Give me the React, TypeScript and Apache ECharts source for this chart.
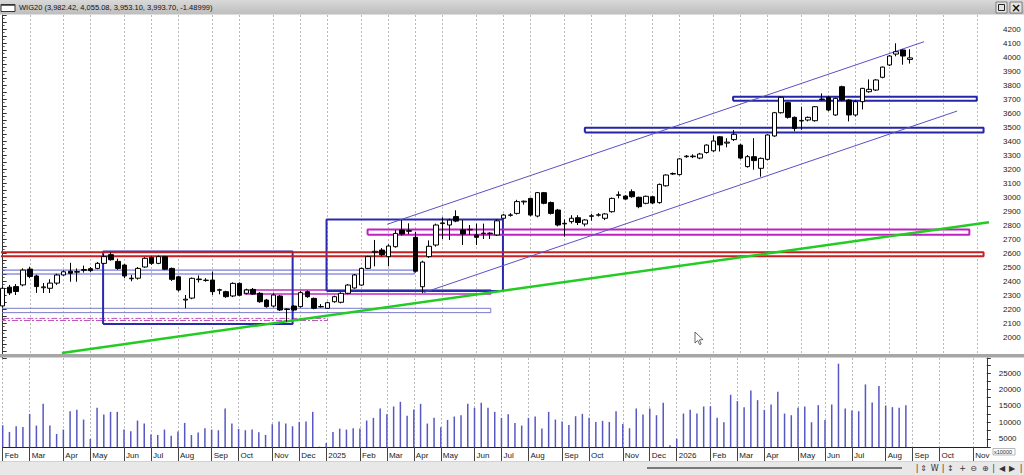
import React, { useEffect, useRef } from "react";
import * as echarts from "echarts";

// ---------- data ----------
const CATEGORY_COUNT = 147; // weekly slots, Feb 2024 .. Nov 2026
const categories: string[] = Array.from({ length: CATEGORY_COUNT }, (_, i) => String(i));

const monthTickIndex = [0, 4, 9, 13, 18, 22, 26, 31, 35, 40, 44, 48, 53, 57, 61, 65, 70, 74, 78, 83, 87, 92, 96, 100, 105, 109, 113, 118, 122, 126, 131, 135, 139, 144];
const monthTickLabel = ["Feb", "Mar", "Apr", "May", "Jun", "Jul", "Aug", "Sep", "Oct", "Nov", "Dec", "2025", "Feb", "Mar", "Apr", "May", "Jun", "Jul", "Aug", "Sep", "Oct", "Nov", "Dec", "2026", "Feb", "Mar", "Apr", "May", "Jun", "Jul", "Aug", "Sep", "Oct", "Nov"];

// weekly candles: [open, close, low, high]
const candles: number[][] = [
  [2222, 2348, 2212, 2360], [2356, 2315, 2300, 2372], [2360, 2325, 2300, 2378], [2372, 2478, 2362, 2490], [2485, 2432, 2420, 2502],
  [2436, 2360, 2315, 2445], [2352, 2358, 2314, 2386], [2348, 2385, 2314, 2412], [2385, 2443, 2372, 2452], [2443, 2466, 2436, 2476],
  [2470, 2455, 2395, 2530], [2463, 2467, 2395, 2490], [2476, 2482, 2460, 2510], [2488, 2474, 2465, 2500], [2490, 2526, 2484, 2536],
  [2526, 2574, 2520, 2590], [2588, 2552, 2545, 2605], [2540, 2490, 2480, 2560], [2514, 2436, 2420, 2522], [2416, 2420, 2398, 2443],
  [2420, 2490, 2410, 2500], [2500, 2562, 2494, 2570], [2568, 2526, 2515, 2578], [2526, 2574, 2520, 2582], [2574, 2484, 2478, 2580],
  [2490, 2412, 2400, 2496], [2430, 2336, 2325, 2436], [2264, 2270, 2205, 2300], [2278, 2419, 2270, 2425], [2410, 2414, 2390, 2440],
  [2404, 2406, 2395, 2420], [2407, 2324, 2300, 2467], [2334, 2338, 2305, 2345], [2324, 2288, 2280, 2330], [2293, 2383, 2285, 2390],
  [2383, 2298, 2292, 2390], [2312, 2336, 2305, 2345], [2340, 2307, 2300, 2350], [2312, 2252, 2245, 2320], [2264, 2217, 2210, 2272],
  [2221, 2300, 2212, 2312], [2293, 2193, 2186, 2300], [2196, 2200, 2109, 2205], [2221, 2193, 2185, 2228], [2217, 2317, 2210, 2330],
  [2324, 2288, 2280, 2332], [2276, 2205, 2198, 2282], [2215, 2218, 2210, 2235], [2205, 2245, 2200, 2252], [2252, 2288, 2245, 2295],
  [2248, 2312, 2240, 2320], [2312, 2371, 2305, 2378], [2350, 2443, 2345, 2450], [2371, 2490, 2365, 2495], [2490, 2574, 2485, 2580],
  [2605, 2612, 2505, 2693], [2621, 2588, 2575, 2635], [2574, 2650, 2505, 2662], [2645, 2740, 2638, 2764], [2764, 2736, 2725, 2836],
  [2755, 2760, 2735, 2812], [2712, 2470, 2460, 2750], [2359, 2535, 2315, 2545], [2574, 2648, 2565, 2690], [2657, 2800, 2645, 2810],
  [2810, 2815, 2700, 2855], [2800, 2835, 2693, 2845], [2860, 2828, 2820, 2905], [2765, 2736, 2657, 2836], [2765, 2769, 2729, 2800],
  [2729, 2712, 2657, 2810], [2738, 2742, 2700, 2810], [2738, 2742, 2700, 2748], [2729, 2830, 2722, 2840], [2848, 2871, 2840, 2880],
  [2869, 2872, 2860, 2885], [2883, 2967, 2875, 2980], [2965, 2970, 2945, 2975], [2990, 2871, 2862, 2995], [2864, 3031, 2855, 3036],
  [3031, 2955, 2948, 3036], [2960, 2883, 2875, 2968], [2907, 2800, 2790, 2915], [2808, 2812, 2717, 2840], [2824, 2848, 2810, 2870],
  [2852, 2818, 2800, 2870], [2807, 2836, 2790, 2842], [2862, 2866, 2830, 2880], [2870, 2873, 2860, 2885], [2848, 2879, 2835, 2885],
  [2895, 2990, 2888, 2996], [3012, 3016, 2990, 3040], [3007, 2985, 2980, 3012], [3038, 3002, 2995, 3055], [2998, 2931, 2920, 3002],
  [2955, 3005, 2948, 3010], [3002, 2957, 2950, 3008], [2960, 3090, 2952, 3096], [3080, 3157, 3074, 3162], [3164, 3168, 3158, 3175],
  [3160, 3272, 3154, 3278], [3288, 3292, 3280, 3300], [3288, 3292, 3278, 3305], [3278, 3307, 3270, 3315], [3318, 3371, 3310, 3376],
  [3330, 3400, 3322, 3440], [3430, 3372, 3325, 3436], [3385, 3392, 3355, 3420], [3410, 3448, 3400, 3478], [3371, 3278, 3270, 3380],
  [3217, 3288, 3210, 3300], [3288, 3260, 3195, 3420], [3205, 3276, 3145, 3282], [3269, 3443, 3262, 3448], [3436, 3602, 3430, 3608],
  [3602, 3712, 3596, 3718], [3674, 3569, 3560, 3680], [3569, 3490, 3470, 3575], [3543, 3547, 3480, 3645], [3550, 3569, 3540, 3575],
  [3545, 3645, 3538, 3650], [3696, 3700, 3690, 3740], [3712, 3621, 3612, 3720], [3586, 3705, 3580, 3710], [3788, 3693, 3686, 3795],
  [3693, 3586, 3540, 3698], [3586, 3681, 3575, 3690], [3681, 3776, 3625, 3780], [3752, 3769, 3745, 3840], [3764, 3836, 3757, 3842],
  [3855, 3928, 3848, 3932], [3943, 4007, 3936, 4014], [4021, 4038, 4005, 4098], [4050, 4007, 3945, 4055], [3982.42, 3993.7, 3953.1, 4055.08],
];

const volumes: number[] = [
  9120, 7090, 8820, 8610, 12590, 9020, 15650, 9020, 6470, 7800,
  13400, 13810, 10860, 4950, 14420, 12380, 13200, 13200, 7800, 7290,
  10550, 9630, 6270, 6170, 7800, 5960, 7190, 9840, 6170, 6880,
  8210, 7800, 7600, 14220, 9630, 8000, 7600, 7800, 6980, 6170,
  9430, 10240, 9630, 8820, 10140, 10240, 13200, 2600, 3720, 7090,
  8100, 7800, 8210, 8100, 10550, 11370, 14220, 12490, 14830, 16260,
  11980, 13910, 15650, 9630, 11370, 8510, 10750, 11770, 12180, 15650,
  14420, 15950, 14420, 13200, 11370, 12480, 9840, 9020, 11370, 11770,
  8100, 13200, 10860, 10240, 9230, 11870, 12590, 11370, 10140, 10450,
  10140, 13400, 9530, 8210, 14220, 12380, 14220, 12180, 15950, 3010,
  5050, 12690, 13810, 12690, 14830, 14930, 11370, 10040, 18400, 16460,
  14630, 19720, 16770, 13810, 15440, 19310, 12690, 12180, 14420, 14830,
  10040, 15240, 10750, 15440, 27870, 14220, 13610, 13400, 21560, 16050,
  21050, 15130, 14630, 14420, 15240,
];

// drawings: [weekStart, weekEnd, priceLow, priceHigh]
const redBand = [-0.4, 144.9, 2576, 2606];
const magentaBandRight = [53.9, 142.8, 2731, 2767];
const blueBandUpper = [107.9, 143.9, 3688, 3716];
const blueBandLower = [86.0, 144.9, 3460, 3495];
const blueBox2024 = [14.83, 42.83, 2093, 2610];
const blueBox2025 = [47.84, 73.9, 2328, 2840];
const thinBlueBand = [-0.4, 60.8, 2450, 2478];
const paleBlueBand = [-0.4, 72.1, 2174, 2205];
const dashedMagentaBand = [-0.4, 48.0, 2118, 2133];
const magentaBandLow = [35.7, 72.1, 2308, 2336];
// trend lines: [[week, price], [week, price]]
const channelUpper = [[56.8, 2805], [136.1, 4109]];
const channelLower = [[62.2, 2317], [141.0, 3614]];
const greenTrend = [[8.74, 1886], [145.7, 2819]];

const titleText = "WIG20 (3,982.42, 4,055.08, 3,953.10, 3,993.70, -1.48999)";
const toolbarIcons = ["|", "⇕", "W", "|", "↕", "+", "⊖", "⊕", "|", "◀", "▶", "|"];
const toolbarIconX = [917, 923.7, 934.7, 943, 950.3, 962.7, 973.7, 985.3, 993.7, 1002, 1012, 1021];

// ---------- chart ----------
const FONT = "Liberation Sans";
const monthSet = new Set(monthTickIndex);
const monthLabelMap = new Map<number, string>(monthTickIndex.map((i, k) => [i, monthTickLabel[k]]));
const isMonth = (i: number) => monthSet.has(i);

const rectPoints = (r: number[]) => [
  [r[0], r[2]], [r[1], r[2]], [r[1], r[3]], [r[0], r[3]], [r[0], r[2]],
];

const overlay = (data: number[][], color: string, width: number, type: any = "solid", z = 2) => ({
  type: "line",
  xAxisIndex: 2,
  yAxisIndex: 0,
  data,
  symbol: "none",
  showSymbol: false,
  clip: false,
  silent: true,
  z,
  lineStyle: { color, width, type },
});

function buildOption(): any {
  const gridDash = { color: "#b9b9b9", type: [2, 2], width: 1 };
  return {
    animation: false,
    backgroundColor: "#ffffff",
    grid: [
      { left: 2.7, right: 33, top: 15, height: 343 },
      { left: 2.7, right: 33, top: 358, height: 89 },
    ],
    xAxis: [
      {
        type: "category", gridIndex: 0, data: categories, boundaryGap: false,
        axisLine: { show: false }, axisTick: { show: false }, axisLabel: { show: false },
        splitLine: { show: true, interval: (i: number) => isMonth(i), lineStyle: gridDash },
      },
      {
        type: "category", gridIndex: 1, data: categories, boundaryGap: false,
        axisLine: { show: true, lineStyle: { color: "#222", width: 1 } },
        axisTick: { show: true, interval: (i: number) => isMonth(i), length: 14, lineStyle: { color: "#444" } },
        axisLabel: {
          show: true, interval: (i: number) => isMonth(i),
          formatter: (v: string) => monthLabelMap.get(Number(v)) ?? "",
          align: "left", verticalAlign: "top", margin: 4, padding: [0, 0, 0, 2],
          fontSize: 8, fontFamily: FONT, color: "#1a1a1a",
        },
        splitLine: { show: true, interval: (i: number) => isMonth(i), lineStyle: gridDash },
      },
      { type: "value", gridIndex: 0, min: 0, max: CATEGORY_COUNT - 1, show: false },
    ],
    yAxis: [
      {
        type: "value", gridIndex: 0, position: "right", min: 1850, max: 4300, interval: 50,
        axisLine: { show: true, lineStyle: { color: "#333" } },
        axisTick: { show: true, length: 4, lineStyle: { color: "#333" } },
        minorTick: { show: true, splitNumber: 2, length: 2, lineStyle: { color: "#555" } },
        axisLabel: {
          formatter: (v: number) => (v % 100 === 0 && v >= 2000 && v <= 4200 ? String(v) : ""),
          margin: 12, fontSize: 8, fontFamily: FONT, color: "#1a1a1a",
        },
        splitLine: { show: false },
      },
      {
        type: "value", gridIndex: 1, position: "right", min: 2500, max: 29600, interval: 2500,
        axisLine: { show: true, lineStyle: { color: "#333" } },
        axisTick: { show: true, length: 4, lineStyle: { color: "#333" } },
        axisLabel: {
          formatter: (v: number) => (v % 5000 === 0 && v >= 5000 && v <= 25000 ? String(v) : ""),
          margin: 12, fontSize: 8, fontFamily: FONT, color: "#1a1a1a",
        },
        splitLine: { show: false },
      },
    ],
    series: [
      overlay(rectPoints(paleBlueBand), "#7b7bc8", 1),
      overlay(rectPoints(dashedMagentaBand), "#c050c0", 1, [6, 2, 2, 2]),
      overlay(rectPoints(thinBlueBand), "#5a5ad0", 1),
      overlay(rectPoints(magentaBandLow), "#c02cc0", 1.5),
      overlay(rectPoints(blueBox2024), "#2a2ab0", 2),
      overlay(rectPoints(blueBox2025), "#2a2ab0", 2),
      overlay(rectPoints(redBand), "#c82020", 2),
      overlay(rectPoints(magentaBandRight), "#c020c0", 2),
      overlay(rectPoints(blueBandUpper), "#2525a8", 2),
      overlay(rectPoints(blueBandLower), "#2525a8", 2),
      overlay(channelUpper, "#5a50c8", 1),
      overlay(channelLower, "#5a50c8", 1),
      overlay(greenTrend, "#22cc22", 2.5),
      {
        type: "candlestick", xAxisIndex: 0, yAxisIndex: 0, data: candles, barWidth: 5, z: 4,
        itemStyle: { color: "#ffffff", color0: "#000000", borderColor: "#000000", borderColor0: "#000000", borderWidth: 1 },
      },
      {
        type: "bar", xAxisIndex: 1, yAxisIndex: 1, data: volumes, barWidth: 1.5,
        itemStyle: { color: "#5757c4" },
      },
    ],
    graphic: [
      // title bar
      {
        type: "rect", z: 100, shape: { x: 0, y: 0, width: 1024, height: 14.5 },
        style: { fill: new echarts.graphic.LinearGradient(0, 0, 0, 1, [{ offset: 0, color: "#d9d9d9" }, { offset: 1, color: "#bdbdbd" }]) },
      },
      { type: "rect", z: 101, shape: { x: 1, y: 4.5, width: 14, height: 7 }, style: { fill: "#ffffff", stroke: "#333", lineWidth: 1 } },
      { type: "line", z: 101, shape: { x1: 1, y1: 5, x2: 15, y2: 5 }, style: { stroke: "#333", lineWidth: 1.5 } },
      { type: "text", z: 101, x: 19, y: 7.5, style: { text: titleText, fontSize: 7.5, fontFamily: FONT, fill: "#111", verticalAlign: "middle" } },
      { type: "rect", z: 101, shape: { x: 996, y: 2, width: 11, height: 11 }, style: { fill: "#e4e4e4", stroke: "#666", lineWidth: 0.8 } },
      { type: "rect", z: 102, shape: { x: 998.5, y: 4.5, width: 6, height: 6 }, style: { fill: "none", stroke: "#222", lineWidth: 1 } },
      { type: "rect", z: 101, shape: { x: 1010, y: 2, width: 12, height: 11 }, style: { fill: "#e4e4e4", stroke: "#666", lineWidth: 0.8 } },
      { type: "text", z: 102, x: 1016, y: 7.5, style: { text: "×", fontSize: 12, fontWeight: "bold", fontFamily: "DejaVu Sans", fill: "#111", align: "center", verticalAlign: "middle" } },
      // pane separator
      { type: "rect", z: 100, shape: { x: 0, y: 354, width: 1024, height: 3.5 }, style: { fill: "#a6a6a6" } },
      // hide label overflow past the axis
      { type: "rect", z: 100, shape: { x: 991.5, y: 448, width: 33, height: 13 }, style: { fill: "#ffffff" } },
      // volume multiplier
      { type: "rect", z: 101, shape: { x: 993, y: 448.5, width: 22, height: 6.5 }, style: { fill: "#ffffff", stroke: "#888", lineWidth: 0.6 } },
      { type: "text", z: 102, x: 994, y: 451.8, style: { text: "x10000", fontSize: 5.5, fontFamily: FONT, fill: "#222", verticalAlign: "middle" } },
      // bottom toolbar
      { type: "rect", z: 100, shape: { x: 0, y: 461.5, width: 1024, height: 14 }, style: { fill: "#e8e8e8" } },
      { type: "line", z: 101, shape: { x1: 0, y1: 461.5, x2: 1024, y2: 461.5 }, style: { stroke: "#d2d2d2", lineWidth: 1 } },
      { type: "line", z: 101, shape: { x1: 647, y1: 468, x2: 902, y2: 468 }, style: { stroke: "#555", lineWidth: 1.5 } },
      ...toolbarIcons.map((t, k) => ({
        type: "text", z: 101, x: toolbarIconX[k], y: 468,
        style: { text: t, fontSize: 8, fontFamily: "DejaVu Sans", fill: "#333", align: "center", verticalAlign: "middle" },
      })),
      // mouse cursor
      {
        type: "polygon", z: 103,
        shape: { points: [[695, 332], [695, 343], [697.7, 340.5], [699.6, 344.6], [701.2, 343.9], [699.4, 339.9], [703, 339.6]] },
        style: { fill: "#ffffff", stroke: "#444", lineWidth: 0.8 },
      },
    ],
  };
}

export default function App() {
  const ref = useRef<HTMLDivElement>(null);
  useEffect(() => {
    document.body.style.margin = "0";
    if (!ref.current) return;
    const chart = echarts.init(ref.current, undefined, { renderer: "svg" });
    chart.setOption(buildOption());
    return () => chart.dispose();
  }, []);
  return <div ref={ref} style={{ width: 1024, height: 475, background: "#fff" }} />;
}
